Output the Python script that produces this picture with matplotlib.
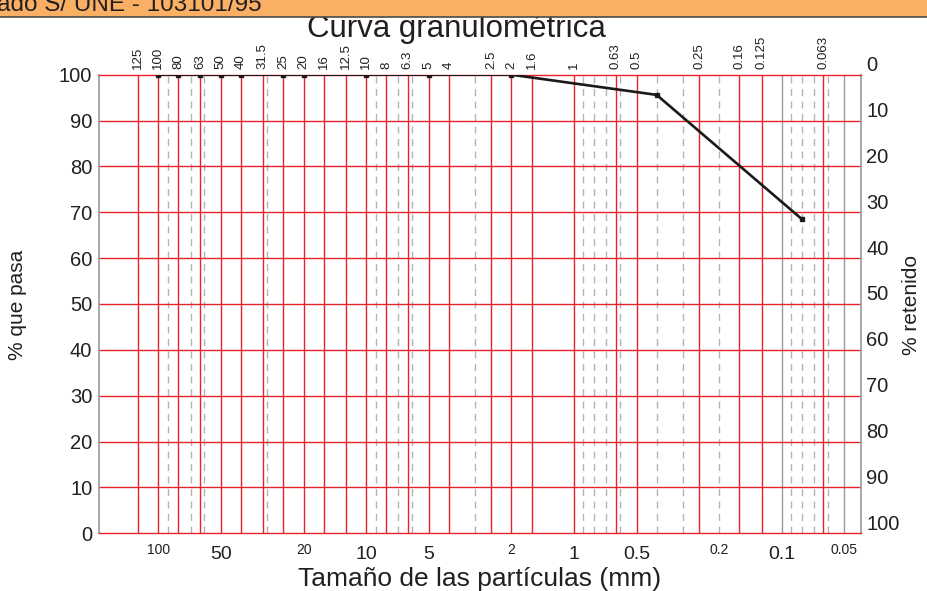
import numpy as np
import matplotlib
matplotlib.use("Agg")
import matplotlib.pyplot as plt
from matplotlib.patches import Rectangle
from matplotlib.transforms import ScaledTranslation

plt.rcParams['font.family'] = ['Liberation Sans', 'DejaVu Sans']

# serie de tamices (mm) y su rotulo superior
tamices = [125, 100, 80, 63, 50, 40, 31.5, 25, 20, 16, 12.5, 10, 8, 6.3, 5, 4,
           2.5, 2, 1.6, 1, 0.63, 0.5, 0.25, 0.16, 0.125, 0.063]
tamices_txt = ['125', '100', '80', '63', '50', '40', '31.5', '25', '20', '16',
               '12.5', '10', '8', '6.3', '5', '4', '2.5', '2', '1.6', '1',
               '0.63', '0.5', '0.25', '0.16', '0.125', '0.063']

# resultados del ensayo
abertura = [100, 80, 63, 50, 40, 25, 20, 10, 5, 2, 0.4, 0.08]
pasa = [100, 100, 100, 100, 100, 100, 100, 100, 100, 100, 95.6, 68.5]

# rotulos del eje inferior
esc_grande = [50, 10, 5, 1, 0.5, 0.1]
esc_grande_txt = ['50', '10', '5', '1', '0.5', '0.1']
esc_chica = [100, 20, 2, 0.2, 0.05]
esc_chica_txt = ['100', '20', '2', '0.2', '0.05']
lineas_grises = [0.1, 0.05]

pct = [0, 10, 20, 30, 40, 50, 60, 70, 80, 90, 100]

ROJO = '#e8212b'
GRIS = '#9a9a9a'
TXT = '#231f20'

W, H = 928, 591
fig = plt.figure(figsize=(W / 100, H / 100), dpi=100)
fig.patch.set_facecolor('white')

x0, x1 = 99.3, 860.7
y0, y1 = 74.7, 533.3
ax = fig.add_axes([x0 / W, 1 - y1 / H, (x1 - x0) / W, (y1 - y0) / H])
ax.set_xscale('log')
ax.set_xlim(192.3, 0.0417)
ax.set_ylim(0, 100)

# papel semilogaritmico: divisiones discontinuas
for n in range(-2, 3):
    for k in range(1, 10):
        v = round(k * 10.0 ** n, 6)
        if v in tamices or v in lineas_grises:
            continue
        if 0.0417 < v < 192.3:
            ax.axvline(v, color='#b4b4b4', lw=1.0, dashes=(5, 4), zorder=1)
for v in lineas_grises:
    ax.axvline(v, color=GRIS, lw=1.0, zorder=1)
for t in tamices:
    ax.axvline(t, color=ROJO, lw=1.0, zorder=2)
for p in pct[1:-1]:
    ax.axhline(p, color=ROJO, lw=1.0, zorder=2)

ax.plot(abertura, pasa, color='#1a1a1a', lw=1.9, marker='s', ms=3.2, zorder=4,
        solid_joinstyle='round')

for s in ['top', 'bottom']:
    ax.spines[s].set_color(ROJO)
    ax.spines[s].set_linewidth(1.0)
for s in ['left', 'right']:
    ax.spines[s].set_color(GRIS)
    ax.spines[s].set_linewidth(1.2)

ax.set_yticks(pct)
ax.set_yticklabels([str(p) for p in pct], fontsize=14.5, color=TXT)
ax.tick_params(axis='y', length=0, pad=5)

ax.set_xticks(esc_grande)
ax.set_xticklabels(esc_grande_txt, fontsize=14, color=TXT)
ax.set_xticks(esc_chica, minor=True)
ax.set_xticklabels(esc_chica_txt, minor=True, fontsize=10, color=TXT)
ax.tick_params(axis='x', which='major', length=0, pad=9)
ax.tick_params(axis='x', which='minor', length=0, pad=7)

for t, txt in zip(tamices, tamices_txt):
    ax.annotate(txt, xy=(t, 1), xycoords=('data', 'axes fraction'),
                xytext=(0, 4), textcoords='offset points', rotation=90,
                ha='center', va='bottom', fontsize=9.5, color=TXT,
                family=['Liberation Sans Narrow', 'Liberation Sans'])

# escala de retenidos a la derecha
ax2 = ax.twinx()
ax2.set_ylim(100, 0)
ax2.set_yticks(pct)
ax2.set_yticklabels([str(p) for p in pct], fontsize=14.5, color=TXT)
ax2.tick_params(axis='y', length=0, pad=4)
for s in ax2.spines.values():
    s.set_visible(False)
sube = ScaledTranslation(0, 11 / 100, fig.dpi_scale_trans)
for lbl in ax2.get_yticklabels():
    lbl.set_transform(lbl.get_transform() + sube)

fig.text(18 / W, 1 - 305 / H, '% que pasa', rotation=90, ha='center',
         va='center', fontsize=15, color=TXT)
fig.text(912 / W, 1 - 305 / H, '% retenido', rotation=90, ha='center',
         va='center', fontsize=15, color=TXT)
fig.text(480 / W, 1 - 586 / H, 'Tamaño de las partículas (mm)', ha='center',
         va='baseline', fontsize=19, color=TXT)

fig.text(456 / W, 1 - 36.7 / H, 'Curva granulométrica', ha='center',
         va='baseline', fontsize=22.5, color=TXT, zorder=1)

# franja de cabecera
fig.patches.append(Rectangle((0, 1 - 16.5 / H), 1, 16.5 / H,
                             transform=fig.transFigure, facecolor='#f9b064',
                             edgecolor='none', zorder=5))
fig.add_artist(plt.Line2D([0, 1], [1 - 16.5 / H] * 2, transform=fig.transFigure,
                          color='#4a4a4a', lw=1.2, zorder=6))
fig.text(262 / W, 1 - 11 / H, 'Tamizado S/ UNE - 103101/95', ha='right',
         va='baseline', fontsize=17.5, color=TXT, zorder=7)

fig.savefig('out.png', dpi=100)
